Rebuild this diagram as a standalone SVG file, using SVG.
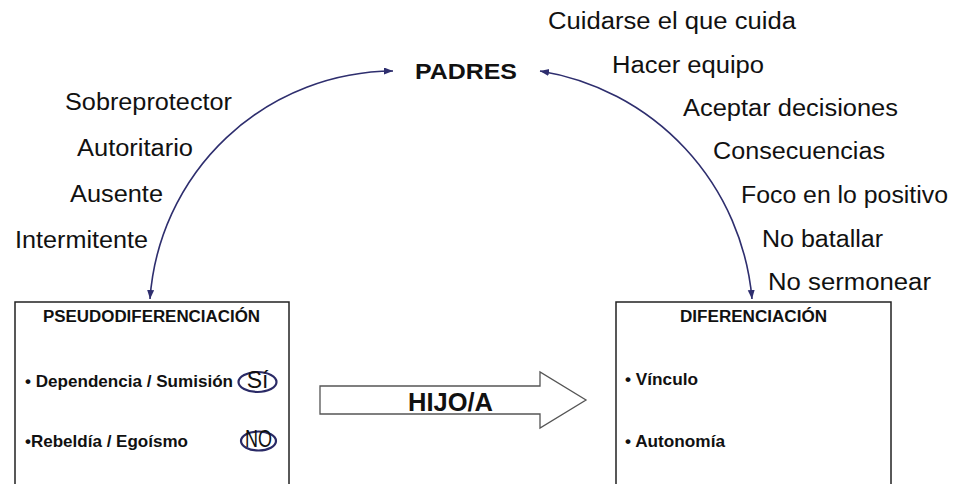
<svg xmlns="http://www.w3.org/2000/svg" width="959" height="484" viewBox="0 0 959 484">
<style>
.t{font-family:"Liberation Sans",Arial,sans-serif;font-size:23px;fill:#111}
.b{font-family:"Liberation Sans",Arial,sans-serif;font-weight:bold;fill:#111}
.box{fill:#fff;stroke:#222;stroke-width:1.5}
.arc{fill:none;stroke:#2e2e6e;stroke-width:1.6}
.oval{fill:none;stroke:#2a2a66;stroke-width:2.2}
</style>
<defs>
<marker id="ah" markerUnits="userSpaceOnUse" markerWidth="10" markerHeight="8" refX="9" refY="3.5" orient="auto-start-reverse">
<path d="M0,0 L9,3.5 L0,7 z" fill="#2e2e6e"/>
</marker>
</defs>
<rect width="959" height="484" fill="#fff"/>
<g id="connectors">
<path class="arc" d="M150,299 A245,245 0 0 1 393,71" marker-start="url(#ah)" marker-end="url(#ah)"/>
<path class="arc" d="M540,71 A253,253 0 0 1 752,299" marker-start="url(#ah)" marker-end="url(#ah)"/>
</g>
<g id="padres">
<text class="b" x="415" y="79" font-size="22" textLength="102" lengthAdjust="spacingAndGlyphs">PADRES</text>
</g>
<g id="estilos-negativos">
<text class="t" x="65" y="110" textLength="167" lengthAdjust="spacingAndGlyphs">Sobreprotector</text>
<text class="t" x="77" y="156" textLength="116" lengthAdjust="spacingAndGlyphs">Autoritario</text>
<text class="t" x="70" y="202" textLength="93" lengthAdjust="spacingAndGlyphs">Ausente</text>
<text class="t" x="15" y="248" textLength="133" lengthAdjust="spacingAndGlyphs">Intermitente</text>
</g>
<g id="estilos-positivos">
<text class="t" x="548" y="29" textLength="248" lengthAdjust="spacingAndGlyphs">Cuidarse el que cuida</text>
<text class="t" x="612" y="73" textLength="152" lengthAdjust="spacingAndGlyphs">Hacer equipo</text>
<text class="t" x="683" y="116" textLength="215" lengthAdjust="spacingAndGlyphs">Aceptar decisiones</text>
<text class="t" x="713" y="159" textLength="172" lengthAdjust="spacingAndGlyphs">Consecuencias</text>
<text class="t" x="741" y="203" textLength="207" lengthAdjust="spacingAndGlyphs">Foco en lo positivo</text>
<text class="t" x="762" y="247" textLength="121" lengthAdjust="spacingAndGlyphs">No batallar</text>
<text class="t" x="768" y="290" textLength="163" lengthAdjust="spacingAndGlyphs">No sermonear</text>
</g>
<g id="pseudodiferenciacion">
<rect class="box" x="15" y="302" width="274" height="190"/>
<text class="b" x="43" y="322" font-size="16" textLength="217" lengthAdjust="spacingAndGlyphs">PSEUDODIFERENCIACIÓN</text>
<text class="b" x="25" y="387" font-size="16.5" textLength="208" lengthAdjust="spacingAndGlyphs">• Dependencia / Sumisión</text>
<text class="b" x="25" y="447" font-size="16.5" textLength="163" lengthAdjust="spacingAndGlyphs">•Rebeldía / Egoísmo</text>
<ellipse class="oval" cx="257.5" cy="382" rx="19" ry="10"/>
<text class="t" x="257.5" y="388" font-size="16" text-anchor="middle">Sí</text>
<ellipse class="oval" cx="258.5" cy="441" rx="17.5" ry="9.5"/>
<text class="t" x="258.5" y="447" font-size="16" text-anchor="middle" textLength="27" lengthAdjust="spacingAndGlyphs">NO</text>
</g>
<g id="hijo">
<polygon points="320,386 540,386 540,372 586,400 540,428 540,414 320,414" fill="#fff" stroke="#555" stroke-width="1.3"/>
<text class="b" x="408" y="411" font-size="25" textLength="85" lengthAdjust="spacingAndGlyphs">HIJO/A</text>
</g>
<g id="diferenciacion">
<rect class="box" x="616" y="302" width="275" height="190"/>
<text class="b" x="680" y="322" font-size="16" textLength="147" lengthAdjust="spacingAndGlyphs">DIFERENCIACIÓN</text>
<text class="b" x="625" y="385" font-size="16.5" textLength="73" lengthAdjust="spacingAndGlyphs">• Vínculo</text>
<text class="b" x="625" y="447" font-size="16.5" textLength="100" lengthAdjust="spacingAndGlyphs">• Autonomía</text>
</g>
</svg>
